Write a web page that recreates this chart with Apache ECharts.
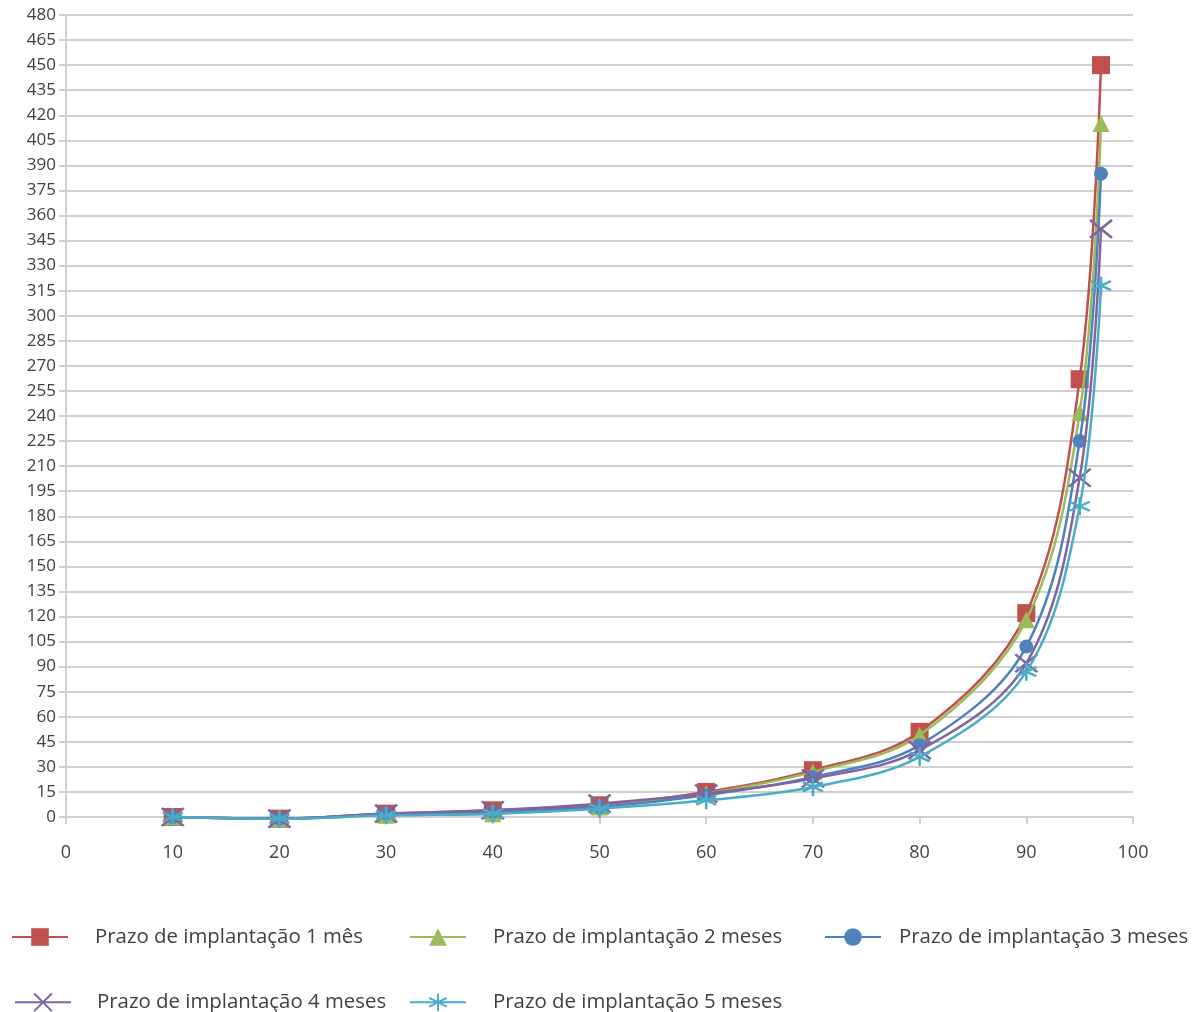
<!DOCTYPE html>
<html>
<head>
<meta charset="utf-8">
<title>Prazo de implantação</title>
<script src="https://cdn.jsdelivr.net/npm/echarts@6/dist/echarts.min.js"></script>
<style>
  html, body { margin: 0; padding: 0; background: #fff; }
  #chart { width: 1195px; height: 1012px; }
</style>
</head>
<body>
<div id="chart"></div>
<script>
// eixo x (percentual)
var xValues = [10, 20, 30, 40, 50, 60, 70, 80, 90, 95, 97];

// valores
var prazo1 = [0, -1, 2, 4, 7, 15, 28, 51, 122, 262, 450];
var prazo2 = [0, -1, 1, 2, 6, 14, 27, 49, 118, 242, 415];
var prazo3 = [0, -1, 2, 3, 6, 13, 24, 43, 102, 225, 385];
var prazo4 = [0, -1, 2, 4, 8, 14, 23, 40, 92, 203, 352];
var prazo5 = [0, -1, 1, 2, 5, 10, 18, 36, 87, 186, 318];

var seriesNames = [
  'Prazo de implantação 1 mês',
  'Prazo de implantação 2 meses',
  'Prazo de implantação 3 meses',
  'Prazo de implantação 4 meses',
  'Prazo de implantação 5 meses'
];
var seriesValues = [prazo1, prazo2, prazo3, prazo4, prazo5];
var colors = ['#C0504D', '#9BBB59', '#4F81BD', '#8064A2', '#4BACC6'];

//* marcadores
var symbols = [
  'rect',
  'triangle',
  'circle',
  'path://M0,0L10,10M10,0L0,10',
  'path://M5,0L5,10M0.7,2.5L9.3,7.5M0.7,7.5L9.3,2.5'
];
var symbolSizes = [18, 17, 14, [22, 18], [20, 18]];
var isStroke = [false, false, false, true, true];

// posição das legendas (gap = espaço entre ícone e texto)
var legendPos = [
  { left: 6, top: 922, gap: 22 },
  { left: 404, top: 922, gap: 22 },
  { left: 819, top: 922, gap: 13 },
  { left: 9, top: 986, gap: 21 },
  { left: 404, top: 986, gap: 22 }
];

var fontFamily = '"Open Sans", "Noto Sans", sans-serif';
var textColor = '#404040';
var gridColor = '#d0d0d0';

function toPairs(values) {
  var out = [];
  for (var i = 0; i < xValues.length; i++) {
    out.push([xValues[i], values[i]]);
  }
  return out;
}

var series = [];
for (var i = 0; i < seriesValues.length; i++) {
  series.push({
    type: 'line',
    name: seriesNames[i],
    data: toPairs(seriesValues[i]),
    smooth: 0.35,
    clip: false,
    symbol: symbols[i],
    symbolSize: symbolSizes[i],
    showAllSymbol: true,
    lineStyle: { color: colors[i], width: 2.5 },
    itemStyle: isStroke[i]
      ? { color: 'none', borderColor: colors[i], borderWidth: 2.5 }
      : { color: colors[i], borderColor: colors[i], borderWidth: 0 },
    emphasis: { disabled: true },
    z: 2 + i
  });
}

var legends = [];
for (var j = 0; j < seriesNames.length; j++) {
  legends.push({
    data: [seriesNames[j]],
    left: legendPos[j].left,
    top: legendPos[j].top,
    itemWidth: 56,
    itemHeight: 22,
    selectedMode: false,
    textStyle: {
      color: textColor,
      fontSize: 20.4,
      fontFamily: fontFamily,
      padding: [0, 0, 0, legendPos[j].gap]
    }
  });
}

var chart = echarts.init(document.getElementById('chart'));
var option = {
  animation: false,
  color: colors,
  legend: legends,
  grid: {
    left: 66,
    right: 62,
    top: 15,
    bottom: 195,
    containLabel: false
  },
  xAxis: {
    type: 'value',
    min: 0,
    max: 100,
    interval: 10,
    axisLine: { show: true, lineStyle: { color: gridColor, width: 2 } },
    axisTick: { show: true, length: 7, lineStyle: { color: gridColor, width: 2 } },
    splitLine: { show: false },
    axisLabel: {
      color: textColor,
      fontSize: 18,
      fontFamily: fontFamily,
      margin: 27
    }
  },
  yAxis: {
    type: 'value',
    min: 0,
    max: 480,
    interval: 15,
    axisLine: { show: true, lineStyle: { color: gridColor, width: 2 } },
    axisTick: { show: true, length: 7, lineStyle: { color: gridColor, width: 2 } },
    splitLine: { show: true, lineStyle: { color: gridColor, width: 2 } },
    axisLabel: {
      color: textColor,
      fontSize: 17,
      fontFamily: fontFamily,
      margin: 10
    }
  },
  series: series
};
chart.setOption(option);
</script>
</body>
</html>
